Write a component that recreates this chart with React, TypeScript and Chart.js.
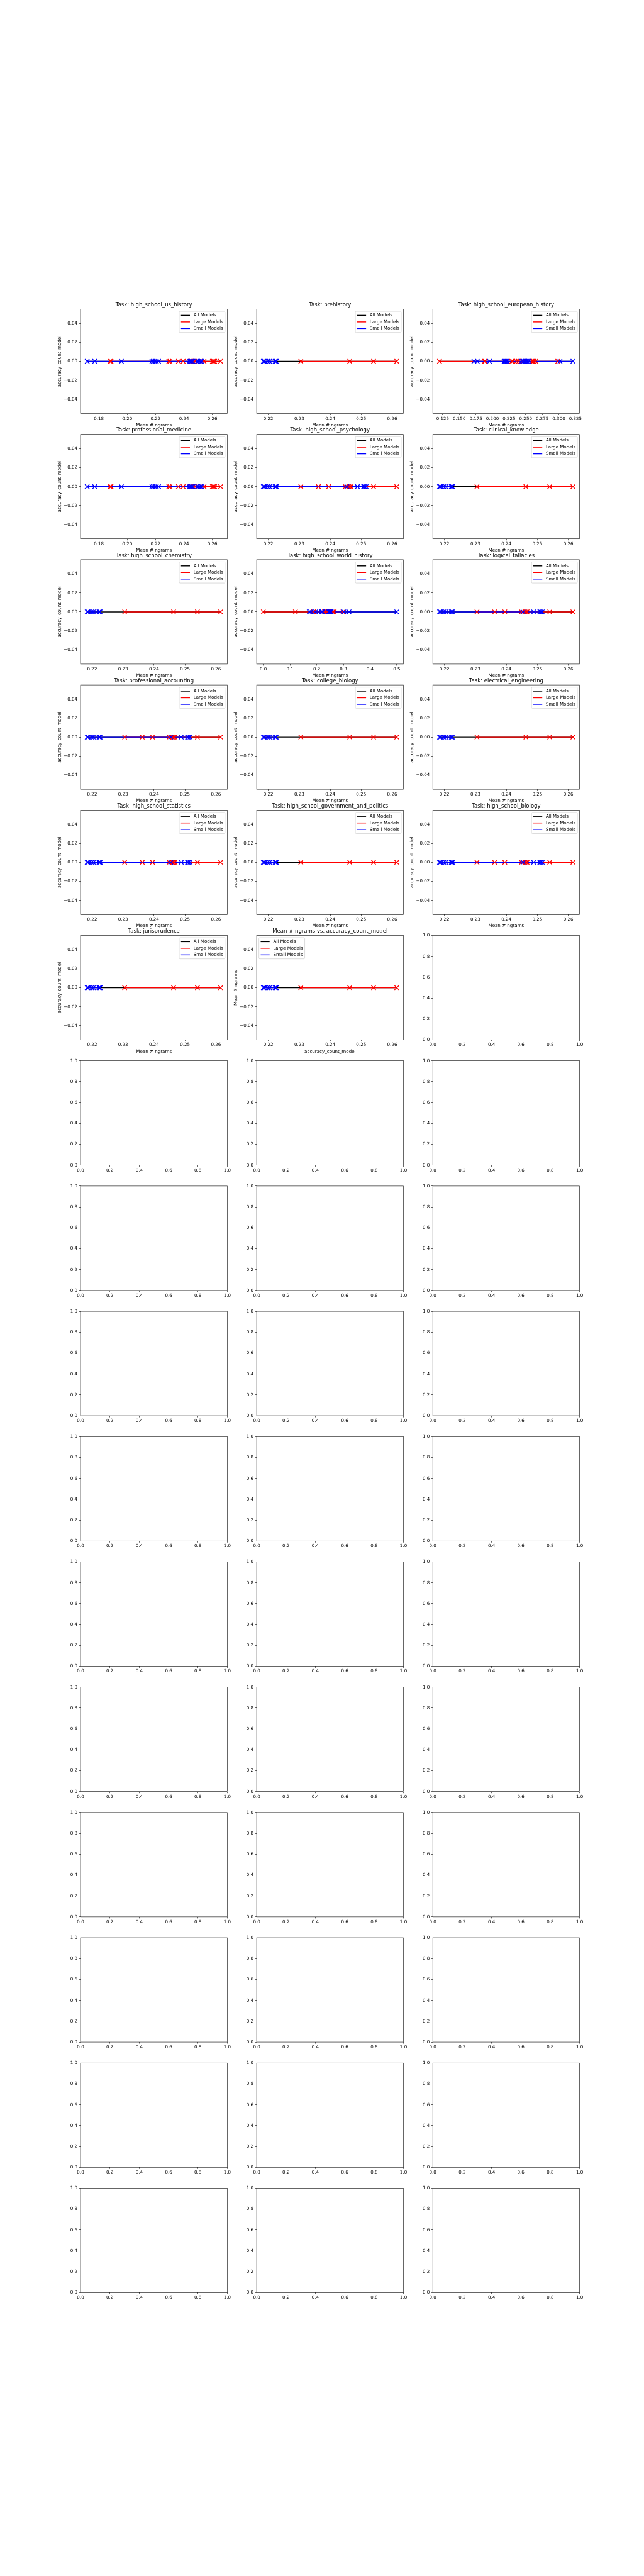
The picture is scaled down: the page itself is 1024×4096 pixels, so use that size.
import React, { useEffect, useRef } from 'react';
import { Chart, registerables } from 'chart.js';

Chart.register(...registerables);

// ---------------- scale & fonts ----------------
const S = 0.512;
const FONT = '"DejaVu Sans", "Noto Sans", sans-serif';
const FS_TICK = 13.889 * S;
const FS_TITLE = 16.667 * S;
const LINE_W = 1.45;
const MARK_R = 5.0;
const MARK_W = 1.3;
const SPINE_W = 0.6;

// ---------------- text ----------------
const TASK_NAMES = [
  'high_school_us_history', 'prehistory', 'high_school_european_history',
  'professional_medicine', 'high_school_psychology', 'clinical_knowledge',
  'high_school_chemistry', 'high_school_world_history', 'logical_fallacies',
  'professional_accounting', 'college_biology', 'electrical_engineering',
  'high_school_statistics', 'high_school_government_and_politics', 'high_school_biology',
  'jurisprudence',
];
const TASK_DATA = ['A', 'B', 'C', 'A', 'D', 'B', 'B', 'E', 'D', 'D', 'B', 'B', 'D', 'B', 'D', 'B'];
const SUMMARY_TITLE = 'Mean # ngrams vs. accuracy_count_model';
const SUMMARY_DATA = 'B';
const X_LABEL = 'Mean # ngrams';
const Y_LABEL = 'accuracy_count_model';
const LEGEND_LABELS = ['All Models', 'Large Models', 'Small Models'];
const SERIES_COLORS = ['#000000', '#ff0000', '#0000ff'];

// ---------------- values (Mean # ngrams, accuracy_count_model) ----------------
const A_SMALL_X = [0.1718, 0.1771, 0.1959, 0.2174, 0.2184, 0.2195, 0.2205, 0.2221, 0.2437, 0.2445, 0.2453, 0.2461, 0.2495, 0.2505, 0.2515, 0.2525];
const A_SMALL_Y = [0, 0, 0, 0, 0, 0, 0, 0, 0, 0, 0, 0, 0, 0, 0, 0];
const A_LARGE_X = [0.1880, 0.1886, 0.2293, 0.2301, 0.2361, 0.2394, 0.2443, 0.2453, 0.2464, 0.2476, 0.2541, 0.2600, 0.2608, 0.2616, 0.2658];
const A_LARGE_Y = [0, 0, 0, 0, 0, 0, 0, 0, 0, 0, 0, 0, 0, 0, 0];

const B_SMALL_X = [0.2184, 0.2187, 0.2198, 0.2204, 0.2222, 0.2224, 0.2226];
const B_SMALL_Y = [0, 0, 0, 0, 0, 0, 0];
const B_LARGE_X = [0.2305, 0.2463, 0.2540, 0.2615];
const B_LARGE_Y = [0, 0, 0, 0];

const C_SMALL_X = [0.1721, 0.1771, 0.1955, 0.2176, 0.2187, 0.2198, 0.2210, 0.2222, 0.2443, 0.2469, 0.2488, 0.2501, 0.2512, 0.2523, 0.2545, 0.3018, 0.3213];
const C_SMALL_Y = [0, 0, 0, 0, 0, 0, 0, 0, 0, 0, 0, 0, 0, 0, 0, 0, 0];
const C_LARGE_X = [0.1202, 0.1879, 0.1888, 0.2291, 0.2306, 0.2362, 0.2395, 0.2455, 0.2461, 0.2599, 0.2610, 0.2621, 0.2653, 0.2985];
const C_LARGE_Y = [0, 0, 0, 0, 0, 0, 0, 0, 0, 0, 0, 0, 0, 0];

const D_SMALL_X = [0.2184, 0.2187, 0.2198, 0.2204, 0.2222, 0.2224, 0.2226, 0.2454, 0.2488, 0.2508, 0.2511, 0.2516];
const D_SMALL_Y = [0, 0, 0, 0, 0, 0, 0, 0, 0, 0, 0, 0];
const D_LARGE_X = [0.2305, 0.2362, 0.2395, 0.2449, 0.2460, 0.2464, 0.2467, 0.2540, 0.2615];
const D_LARGE_Y = [0, 0, 0, 0, 0, 0, 0, 0, 0];

const E_SMALL_X = [0.1721, 0.1771, 0.1955, 0.2176, 0.2187, 0.2198, 0.2210, 0.2222, 0.2443, 0.2469, 0.2488, 0.2501, 0.2512, 0.2523, 0.2545, 0.3018, 0.3213, 0.5000];
const E_SMALL_Y = [0, 0, 0, 0, 0, 0, 0, 0, 0, 0, 0, 0, 0, 0, 0, 0, 0, 0];
const E_LARGE_X = [0.0000, 0.1202, 0.1879, 0.1888, 0.2291, 0.2306, 0.2362, 0.2395, 0.2455, 0.2461, 0.2599, 0.2610, 0.2621, 0.2653, 0.2985];
const E_LARGE_Y = [0, 0, 0, 0, 0, 0, 0, 0, 0, 0, 0, 0, 0, 0, 0];

// ---------------- ticks ----------------
const X_TICKS_A = [0.18, 0.2, 0.22, 0.24, 0.26];
const X_TICK_LABELS_A = ['0.18', '0.20', '0.22', '0.24', '0.26'];
const X_TICKS_B = [0.22, 0.23, 0.24, 0.25, 0.26];
const X_TICK_LABELS_B = ['0.22', '0.23', '0.24', '0.25', '0.26'];
const X_TICKS_C = [0.125, 0.15, 0.175, 0.2, 0.225, 0.25, 0.275, 0.3, 0.325];
const X_TICK_LABELS_C = ['0.125', '0.150', '0.175', '0.200', '0.225', '0.250', '0.275', '0.300', '0.325'];
const X_TICKS_E = [0, 0.1, 0.2, 0.3, 0.4, 0.5];
const X_TICK_LABELS_E = ['0.0', '0.1', '0.2', '0.3', '0.4', '0.5'];
const Y_TICKS = [-0.04, -0.02, 0, 0.02, 0.04];
const Y_TICK_LABELS = ['\u22120.04', '\u22120.02', '0.00', '0.02', '0.04'];
const Y_LIMITS = [-0.055, 0.055];
const EMPTY_TICKS = [0, 0.2, 0.4, 0.6, 0.8, 1];
const EMPTY_TICK_LABELS = ['0.0', '0.2', '0.4', '0.6', '0.8', '1.0'];
const EMPTY_LIMITS = [0, 1];

const GROUPS: Record<string, any> = {
  A: { sx: A_SMALL_X, sy: A_SMALL_Y, lx: A_LARGE_X, ly: A_LARGE_Y, ticks: X_TICKS_A, labels: X_TICK_LABELS_A },
  B: { sx: B_SMALL_X, sy: B_SMALL_Y, lx: B_LARGE_X, ly: B_LARGE_Y, ticks: X_TICKS_B, labels: X_TICK_LABELS_B },
  C: { sx: C_SMALL_X, sy: C_SMALL_Y, lx: C_LARGE_X, ly: C_LARGE_Y, ticks: X_TICKS_C, labels: X_TICK_LABELS_C },
  D: { sx: D_SMALL_X, sy: D_SMALL_Y, lx: D_LARGE_X, ly: D_LARGE_Y, ticks: X_TICKS_B, labels: X_TICK_LABELS_B },
  E: { sx: E_SMALL_X, sy: E_SMALL_Y, lx: E_LARGE_X, ly: E_LARGE_Y, ticks: X_TICKS_E, labels: X_TICK_LABELS_E },
};

// ---------------- layout (reference px, scaled by S) ----------------
const ROWS = 16;
const COLS = 3;
const AX_LEFT0 = 250 * S;
const AX_W = 455.882 * S;
const COL_PITCH = 547.059 * S;
const AX_TOP0 = 960 * S;
const AX_H = 324.211 * S;
const ROW_PITCH = 389.053 * S;
const ML = 62, MT = 22, MR = 18, MB = 30;
const TICK_LEN = 4.861 * S;
const Y_LABEL_OFF = 33; // center of y label left of axes
const X_LABEL_OFF = 18.2; // center of x label below axes

type Spec = {
  r: number; c: number; kind: 'data' | 'empty';
  title?: string; group?: string; xLabel?: string; yLabel?: string; legendLoc?: 'left' | 'right';
};

const SPECS: Spec[] = [];
for (let i = 0; i < ROWS * COLS; i++) {
  const r = Math.floor(i / COLS), c = i % COLS;
  if (i < TASK_NAMES.length) {
    SPECS.push({ r, c, kind: 'data', title: 'Task: ' + TASK_NAMES[i], group: TASK_DATA[i], xLabel: X_LABEL, yLabel: Y_LABEL, legendLoc: 'right' });
  } else if (i === TASK_NAMES.length) {
    SPECS.push({ r, c, kind: 'data', title: SUMMARY_TITLE, group: SUMMARY_DATA, xLabel: Y_LABEL, yLabel: X_LABEL, legendLoc: 'left' });
  } else {
    SPECS.push({ r, c, kind: 'empty' });
  }
}

function geom(spec: Spec) {
  const axL = AX_LEFT0 + spec.c * COL_PITCH;
  const axT = AX_TOP0 + spec.r * ROW_PITCH;
  const left = Math.floor(axL - ML);
  const ml = axL - left;
  const cw = Math.ceil(ml + AX_W + MR);
  const mr = cw - ml - AX_W;
  const top = Math.floor(axT - MT);
  const mt = axT - top;
  const ch = Math.ceil(mt + AX_H + MB);
  const mb = ch - mt - AX_H;
  return { left, top, cw, ch, ml, mr, mt, mb };
}

function makePlugin(spec: Spec) {
  return {
    id: 'mplDecor',
    afterDatasetsDraw(chart: any) {
      const { ctx, chartArea: ca } = chart;
      ctx.save();
      // spines
      ctx.strokeStyle = '#000';
      ctx.lineWidth = SPINE_W;
      ctx.strokeRect(ca.left, ca.top, ca.right - ca.left, ca.bottom - ca.top);
      if (spec.kind === 'data') {
        // legend
        const fs = FS_TICK;
        ctx.font = `${fs}px ${FONT}`;
        const tw = Math.max(...LEGEND_LABELS.map((l) => ctx.measureText(l).width));
        const bp = 0.4 * fs, hl = 2 * fs, htp = 0.8 * fs, ls = 0.5 * fs, rowH = 0.976 * fs;
        const bw = bp + hl + htp + tw + bp;
        const bh = 2 * bp + 3 * rowH + 2 * ls;
        const gap = 0.5 * fs;
        const bx = spec.legendLoc === 'left' ? ca.left + gap : ca.right - gap - bw;
        const by = ca.top + gap;
        ctx.beginPath();
        if (ctx.roundRect) ctx.roundRect(bx, by, bw, bh, 0.2 * fs); else ctx.rect(bx, by, bw, bh);
        ctx.fillStyle = 'rgba(255,255,255,0.8)';
        ctx.fill();
        ctx.strokeStyle = '#cccccc';
        ctx.lineWidth = 0.7;
        ctx.stroke();
        LEGEND_LABELS.forEach((l, i) => {
          const cy = by + bp + rowH * (i + 0.5) + i * ls;
          ctx.strokeStyle = SERIES_COLORS[i];
          ctx.lineWidth = LINE_W;
          ctx.beginPath();
          ctx.moveTo(bx + bp, cy);
          ctx.lineTo(bx + bp + hl, cy);
          ctx.stroke();
          ctx.fillStyle = '#000';
          ctx.textAlign = 'left';
          ctx.textBaseline = 'middle';
          ctx.fillText(l, bx + bp + hl + htp, cy);
        });
        // title
        ctx.font = `${FS_TITLE}px ${FONT}`;
        ctx.fillStyle = '#000';
        ctx.textAlign = 'center';
        ctx.textBaseline = 'alphabetic';
        ctx.fillText(spec.title || '', (ca.left + ca.right) / 2, ca.top - 6 * 1.3889 * S);
      }
      ctx.restore();
    },
  };
}

function pts(xs: number[], ys: number[]) {
  return xs.map((x, i) => ({ x, y: ys[i] }));
}

function buildConfig(spec: Spec, g: ReturnType<typeof geom>) {
  let datasets: any[] = [];
  let xTicks = EMPTY_TICKS, xLabels = EMPTY_TICK_LABELS, yTicks = EMPTY_TICKS, yLabels = EMPTY_TICK_LABELS;
  let xMin = EMPTY_LIMITS[0], xMax = EMPTY_LIMITS[1], yMin = EMPTY_LIMITS[0], yMax = EMPTY_LIMITS[1];
  if (spec.kind === 'data') {
    const d = GROUPS[spec.group as string];
    const large = pts(d.lx, d.ly);
    const small = pts(d.sx, d.sy);
    const all = [...large, ...small].sort((a, b) => a.x - b.x);
    const xs = all.map((p) => p.x);
    const lo = Math.min(...xs), hi = Math.max(...xs);
    const m = 0.05 * (hi - lo);
    xMin = lo - m; xMax = hi + m;
    yMin = Y_LIMITS[0]; yMax = Y_LIMITS[1];
    xTicks = d.ticks; xLabels = d.labels; yTicks = Y_TICKS; yLabels = Y_TICK_LABELS;
    const lineDs = (label: string, data: any[], color: string, order: number) => ({
      label, data, showLine: true, borderColor: color, backgroundColor: color, borderWidth: LINE_W,
      pointRadius: 0, pointHoverRadius: 0, tension: 0, order,
    });
    const markDs = (label: string, data: any[], color: string, order: number) => ({
      label, data, showLine: false, pointStyle: 'crossRot', pointRadius: MARK_R, pointHoverRadius: MARK_R,
      pointBorderWidth: MARK_W, pointBorderColor: color, pointBackgroundColor: color, order,
    });
    datasets = [
      lineDs(LEGEND_LABELS[0], all, SERIES_COLORS[0], 6),
      lineDs(LEGEND_LABELS[1], large, SERIES_COLORS[1], 5),
      lineDs(LEGEND_LABELS[2], small, SERIES_COLORS[2], 4),
      markDs(LEGEND_LABELS[1], large, SERIES_COLORS[1], 2),
      markDs(LEGEND_LABELS[2], small, SERIES_COLORS[2], 1),
    ];
  }
  const tickFont = { family: FONT, size: FS_TICK };
  const grid = { display: true, drawOnChartArea: false, drawTicks: true, tickLength: TICK_LEN, tickWidth: SPINE_W, tickColor: '#000' };
  const labelLH = FS_TICK * 1.2;
  return {
    type: 'scatter',
    data: { datasets },
    options: {
      animation: false,
      responsive: false,
      devicePixelRatio: 1,
      events: [],
      layout: { padding: { left: 0, top: g.mt, right: g.mr, bottom: 0 } },
      plugins: { legend: { display: false }, tooltip: { enabled: false }, title: { display: false } },
      scales: {
        x: {
          type: 'linear', position: 'bottom', min: xMin, max: xMax,
          afterBuildTicks: (s: any) => { s.ticks = xTicks.map((v) => ({ value: v })); },
          afterFit: (s: any) => { s.height = g.mb; },
          ticks: { autoSkip: false, maxRotation: 0, minRotation: 0, padding: 1.4, color: '#000', font: tickFont, callback: (_v: any, i: number) => xLabels[i] },
          grid, border: { display: false },
          title: { display: !!spec.xLabel, text: spec.xLabel || '', color: '#000', font: tickFont, padding: { top: 0, bottom: g.mb - X_LABEL_OFF - labelLH / 2 } },
        },
        y: {
          type: 'linear', position: 'left', min: yMin, max: yMax,
          afterBuildTicks: (s: any) => { s.ticks = yTicks.map((v) => ({ value: v })); },
          afterFit: (s: any) => { s.width = g.ml; },
          ticks: { autoSkip: false, padding: TICK_LEN, color: '#000', font: tickFont, callback: (_v: any, i: number) => yLabels[i] },
          grid, border: { display: false },
          title: { display: !!spec.yLabel, text: spec.yLabel || '', color: '#000', font: tickFont, padding: { top: g.ml - Y_LABEL_OFF - labelLH / 2, bottom: 0 } },
        },
      },
    },
    plugins: [makePlugin(spec)],
  };
}

function SubPlot({ spec }: { spec: Spec }) {
  const ref = useRef<HTMLCanvasElement>(null);
  const g = geom(spec);
  useEffect(() => {
    if (!ref.current) return;
    const chart = new Chart(ref.current, buildConfig(spec, g) as any);
    return () => chart.destroy();
  }, []);
  return (
    <canvas
      ref={ref}
      width={g.cw}
      height={g.ch}
      style={{ position: 'absolute', left: g.left, top: g.top, width: g.cw, height: g.ch }}
    />
  );
}

export default function App() {
  return (
    <div style={{ position: 'absolute', left: 0, top: 0, width: 1024, height: 4096, background: '#ffffff', overflow: 'hidden' }}>
      {SPECS.map((s, i) => <SubPlot key={i} spec={s} />)}
    </div>
  );
}
